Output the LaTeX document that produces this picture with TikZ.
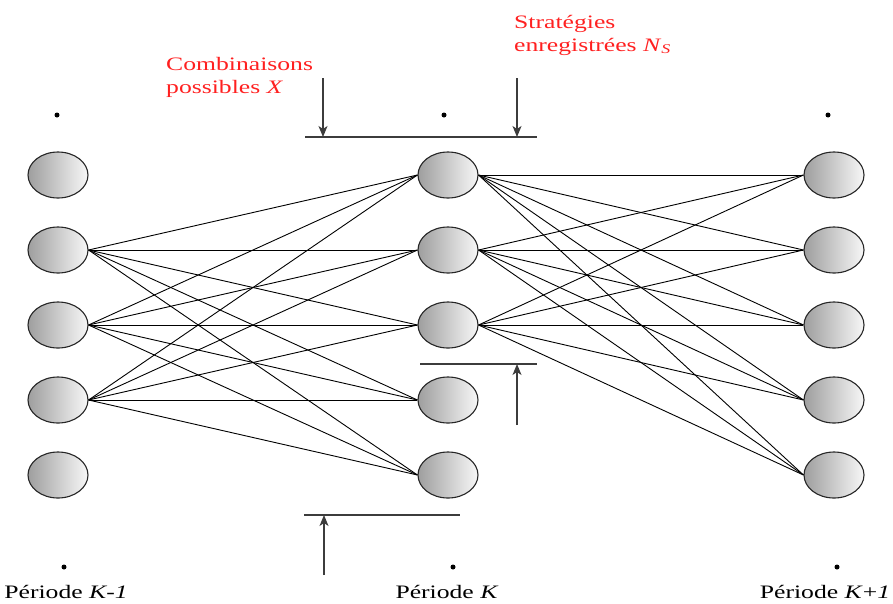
\documentclass[tikz,border=0pt]{standalone}
\usepackage{fontspec}
\setmainfont{Liberation Serif}[FakeStretch=1.35]
\usetikzlibrary{shapes.geometric,arrows.meta}
\definecolor{labelred}{RGB}{255,32,32}
\definecolor{rulegray}{RGB}{60,60,60}
\begin{document}
\begin{tikzpicture}[x=1pt,y=-1pt,
  state/.style={ellipse, minimum width=60pt, minimum height=46pt, inner sep=0pt,
    draw=black!85, line width=1.1pt, left color=black!38, right color=black!3},
  link/.style={line width=0.9pt, black},
  marker/.style={circle, fill=black, inner sep=0pt, minimum size=5pt},
  note/.style={text=labelred, font=\fontsize{19}{24}\selectfont, anchor=base west, inner sep=0pt},
  period/.style={font=\fontsize{19}{24}\selectfont, anchor=base, inner sep=0pt},
  bound/.style={draw=rulegray, line width=1.3pt},
  pointer/.style={draw=rulegray, line width=1.3pt, -{Stealth[length=11pt,width=9pt,inset=3pt]}}
]
\useasboundingbox (0,0) rectangle (893,603);

% three columns of states: periods K-1, K and K+1
\foreach \i in {1,...,5} {
  \node[state] (a\i) at (58,100+75*\i) {};
  \node[state] (b\i) at (448,100+75*\i) {};
  \node[state] (c\i) at (834,100+75*\i) {};
}

% transitions K-1 -> K and K -> K+1
\foreach \s in {2,3,4} \foreach \t in {1,...,5} \draw[link] (a\s.east) -- (b\t.west);
\foreach \s in {1,2,3} \foreach \t in {1,...,5} \draw[link] (b\s.east) -- (c\t.west);

% continuation dots above and below each column
\node[marker] (dta) at (57,115) {};
\node[marker] (dtb) at (444,115) {};
\node[marker] (dtc) at (828,115) {};
\node[marker] (dba) at (64,567) {};
\node[marker] (dbb) at (453,567) {};
\node[marker] (dbc) at (837,567) {};

% period captions
\node[period] (pa) at (66,598) {Période \textit{K-1}};
\node[period] (pb) at (447,598) {Période \textit{K}};
\node[period] (pc) at (825,598) {Période \textit{K}+\textit{1}};

% red annotations
\node[note] (comb1) at (166,70) {Combinaisons};
\node[note] (comb2) at (166,93) {possibles \textit{X}};
\node[note] (strat1) at (514,28) {Stratégies};
\node[note] (strat2) at (514,51) {enregistrées \textit{N}\textsubscript{\textit{S}}};

% bound on the top of the stored strategies
\coordinate (tl) at (305,137);
\coordinate (tr) at (537,137);
\draw[bound] (tl) -- (tr);
\coordinate (xs) at (323,78);
\coordinate (xe) at (323,137);
\draw[pointer] (xs) -- (xe);
\coordinate (ns) at (517,78);
\coordinate (ne) at (517,137);
\draw[pointer] (ns) -- (ne);

% bound under the stored strategies
\coordinate (ml) at (420,364);
\coordinate (mr) at (537,364);
\draw[bound] (ml) -- (mr);
\coordinate (ms) at (517,425);
\coordinate (me) at (517,364);
\draw[pointer] (ms) -- (me);

% bound under the possible combinations
\coordinate (bl) at (304,515);
\coordinate (br) at (460,515);
\draw[bound] (bl) -- (br);
\coordinate (bs) at (324,575);
\coordinate (be) at (324,515);
\draw[pointer] (bs) -- (be);
\end{tikzpicture}
\end{document}
